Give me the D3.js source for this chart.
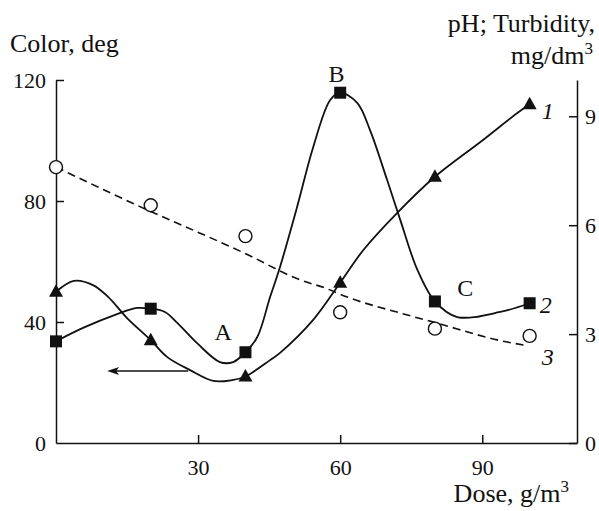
<!DOCTYPE html>
<html>
<head>
<meta charset="utf-8">
<script src="https://cdn.jsdelivr.net/npm/d3@7"></script>
<style>
  body { margin: 0; background: #fff; }
</style>
</head>
<body>
<div id="chart"></div>
<script>
/**
 * chart values
 */

// sample doses, g/m3
const doses = [0, 20, 40, 60, 80, 100];
// curve 1 (triangles), colour, deg - left axis
const colorValues = [50, 34, 22, 53, 88, 112];
// curve 2 (squares), pH - right axis
const phValues = [2.8, 3.7, 2.5, 9.65, 3.9, 3.85];
// curve 3 (circles), turbidity - right axis
const turbValues = [7.6, 6.55, 5.7, 3.6, 3.15, 2.95];

// drawn lines
const colorLineDose = [0, 3.8, 7.8, 11, 15, 20, 23.5, 28.3, 33.2, 37.2, 40, 45.2, 47.3, 54.3, 60, 64.9, 72, 80, 89.6, 97.4, 100];
const colorLineVal = [50, 53.6, 52.2, 48.3, 41.3, 34, 28.4, 24.1, 20.5, 20.8, 22, 27.4, 29.8, 40.7, 53, 63.8, 76, 88, 99.5, 109.1, 112];
const phLineDose = [0, 5.7, 12.9, 17.1, 20, 23, 25.6, 29.8, 34.6, 37.4, 40, 42.5, 45.2, 47.3, 50.9, 54.3, 57.9, 60, 63.6, 66.3, 69.9, 72.7, 76.3, 80, 84.7, 93.8, 100];
const phLineVal = [2.8, 3.17, 3.55, 3.72, 3.7, 3.61, 3.31, 2.75, 2.23, 2.23, 2.5, 2.92, 4.02, 4.85, 6.5, 8.15, 9.45, 9.65, 9.37, 8.62, 7.25, 6.14, 4.77, 3.9, 3.47, 3.61, 3.85];
const turbLineDose = [0, 15.6, 40.6, 51.6, 56.8, 61.5, 72.7, 79.7, 95.3, 98.7];
const turbLineVal = [7.6, 6.64, 5.18, 4.49, 4.27, 4.02, 3.58, 3.33, 2.78, 2.7];

// axis ticks
const xTicks = [30, 60, 90];
const leftTicks = [0, 40, 80, 120];
const rightTicks = [0, 3, 6, 9];

/**
 * layout
 */
const WIDTH = 599;
const HEIGHT = 511;
const LEFT = 56, RIGHT = 577, TOP = 80, BOTTOM = 443;
const TICK = 8;
const FONT = "'Liberation Serif', 'Times New Roman', serif";

const svg = d3.select("#chart").append("svg")
    .attr("width", WIDTH)
    .attr("height", HEIGHT)
    .attr("font-family", FONT);

const x = d3.scaleLinear().domain([0, 110]).range([LEFT, RIGHT]);
const yLeft = d3.scaleLinear().domain([0, 120]).range([BOTTOM, TOP]);
const yRight = d3.scaleLinear().domain([0, 10]).range([BOTTOM, TOP]);

// axes, ticks pointing inward
const xAxis = svg.append("g")
    .attr("transform", `translate(0,${BOTTOM})`)
    .call(d3.axisBottom(x).tickValues(xTicks).tickSize(-TICK).tickSizeOuter(0).tickPadding(16));

const lAxis = svg.append("g")
    .attr("transform", `translate(${LEFT},0)`)
    .call(d3.axisLeft(yLeft).tickValues(leftTicks).tickSize(-TICK).tickSizeOuter(0).tickPadding(10));

const rAxis = svg.append("g")
    .attr("transform", `translate(${RIGHT},0)`)
    .call(d3.axisRight(yRight).tickValues(rightTicks).tickSize(-TICK).tickSizeOuter(0).tickPadding(8));

[xAxis, lAxis, rAxis].forEach(g => {
    g.attr("font-family", FONT).attr("font-size", 22);
    g.selectAll("path, line").attr("stroke", "#111").attr("stroke-width", 1.5);
    g.selectAll("text").attr("fill", "#111");
});
// no tick mark at zero on the left axis (it sits on the bottom line)
lAxis.selectAll(".tick line").filter(d => d === 0).remove();

// axis titles
const title = (tx, ty, anchor) => svg.append("text")
    .attr("x", tx).attr("y", ty)
    .attr("text-anchor", anchor)
    .attr("font-size", 26)
    .attr("fill", "#111");

title(10, 52, "start").text("Color, deg");
title(595, 32, "end").text("pH; Turbidity,");

const mg = title(593, 64, "end");
mg.append("tspan").text("mg/dm");
mg.append("tspan").attr("dy", -10).attr("font-size", 17).text("3");

const dose = title(569, 502, "end");
dose.append("tspan").text("Dose, g/m");
dose.append("tspan").attr("dy", -10).attr("font-size", 17).text("3");

/**
 * lines
 */
const zip = (a, b) => a.map((d, i) => [d, b[i]]);

const solid = (yScale) => d3.line()
    .x(d => x(d[0]))
    .y(d => yScale(d[1]))
    .curve(d3.curveCatmullRom.alpha(0.5));

svg.append("path")
    .datum(zip(turbLineDose, turbLineVal))
    .attr("fill", "none")
    .attr("stroke", "#111")
    .attr("stroke-width", 1.6)
    .attr("stroke-dasharray", "8,5")
    .attr("d", d3.line().x(d => x(d[0])).y(d => yRight(d[1])).curve(d3.curveMonotoneX));

svg.append("path")
    .datum(zip(colorLineDose, colorLineVal))
    .attr("fill", "none")
    .attr("stroke", "#111")
    .attr("stroke-width", 1.8)
    .attr("d", solid(yLeft));

svg.append("path")
    .datum(zip(phLineDose, phLineVal))
    .attr("fill", "none")
    .attr("stroke", "#111")
    .attr("stroke-width", 1.8)
    .attr("d", solid(yRight));

/**
 * markers
 */
svg.selectAll(".circ")
    .data(zip(doses, turbValues))
    .enter()
    .append("circle")
    .attr("class", "circ")
    .attr("cx", d => x(d[0]))
    .attr("cy", d => yRight(d[1]))
    .attr("r", 6.5)
    .attr("fill", "#fff")
    .attr("stroke", "#111")
    .attr("stroke-width", 1.4);

svg.selectAll(".sq")
    .data(zip(doses, phValues))
    .enter()
    .append("rect")
    .attr("class", "sq")
    .attr("x", d => x(d[0]) - 6)
    .attr("y", d => yRight(d[1]) - 6)
    .attr("width", 12)
    .attr("height", 12)
    .attr("fill", "#111");

svg.selectAll(".tri")
    .data(zip(doses, colorValues))
    .enter()
    .append("path")
    .attr("class", "tri")
    .attr("transform", d => `translate(${x(d[0])},${yLeft(d[1])})`)
    .attr("d", "M0,-7.5L7,5L-7,5Z")
    .attr("fill", "#111");

/**
 * annotations
 */
// arrow: curve 1 belongs to the left axis
const arrowFrom = [27.9, 23.8], arrowTo = [10.8, 23.8];
const ax1 = x(arrowFrom[0]), ax2 = x(arrowTo[0]), ay = yLeft(arrowFrom[1]);
svg.append("line")
    .attr("x1", ax1).attr("x2", ax2 + 6)
    .attr("y1", ay).attr("y2", ay)
    .attr("stroke", "#111")
    .attr("stroke-width", 1.3);
svg.append("path")
    .attr("d", `M${ax2},${ay}L${ax2 + 12},${ay - 4}L${ax2 + 9},${ay}L${ax2 + 12},${ay + 4}Z`)
    .attr("fill", "#111");

const letters = [
    { t: "A", d: 35.3, v: 36.7, axis: "left" },
    { t: "B", d: 59.2, v: 122, axis: "left" },
    { t: "C", d: 86.4, v: 4.27, axis: "right" }
];
const curveNums = [
    { t: "1", d: 103.8, v: 110, axis: "left" },
    { t: "2", d: 103.4, v: 3.8, axis: "right" },
    { t: "3", d: 103.8, v: 2.37, axis: "right" }
];
const yOf = a => a.axis === "left" ? yLeft(a.v) : yRight(a.v);

svg.selectAll(".letter")
    .data(letters)
    .enter()
    .append("text")
    .attr("class", "letter")
    .attr("x", d => x(d.d))
    .attr("y", d => yOf(d))
    .attr("dy", "0.35em")
    .attr("text-anchor", "middle")
    .attr("font-size", 24)
    .attr("fill", "#111")
    .text(d => d.t);

svg.selectAll(".num")
    .data(curveNums)
    .enter()
    .append("text")
    .attr("class", "num")
    .attr("x", d => x(d.d))
    .attr("y", d => yOf(d))
    .attr("dy", "0.35em")
    .attr("text-anchor", "middle")
    .attr("font-size", 24)
    .attr("font-style", "italic")
    .attr("fill", "#111")
    .text(d => d.t);
</script>
</body>
</html>
